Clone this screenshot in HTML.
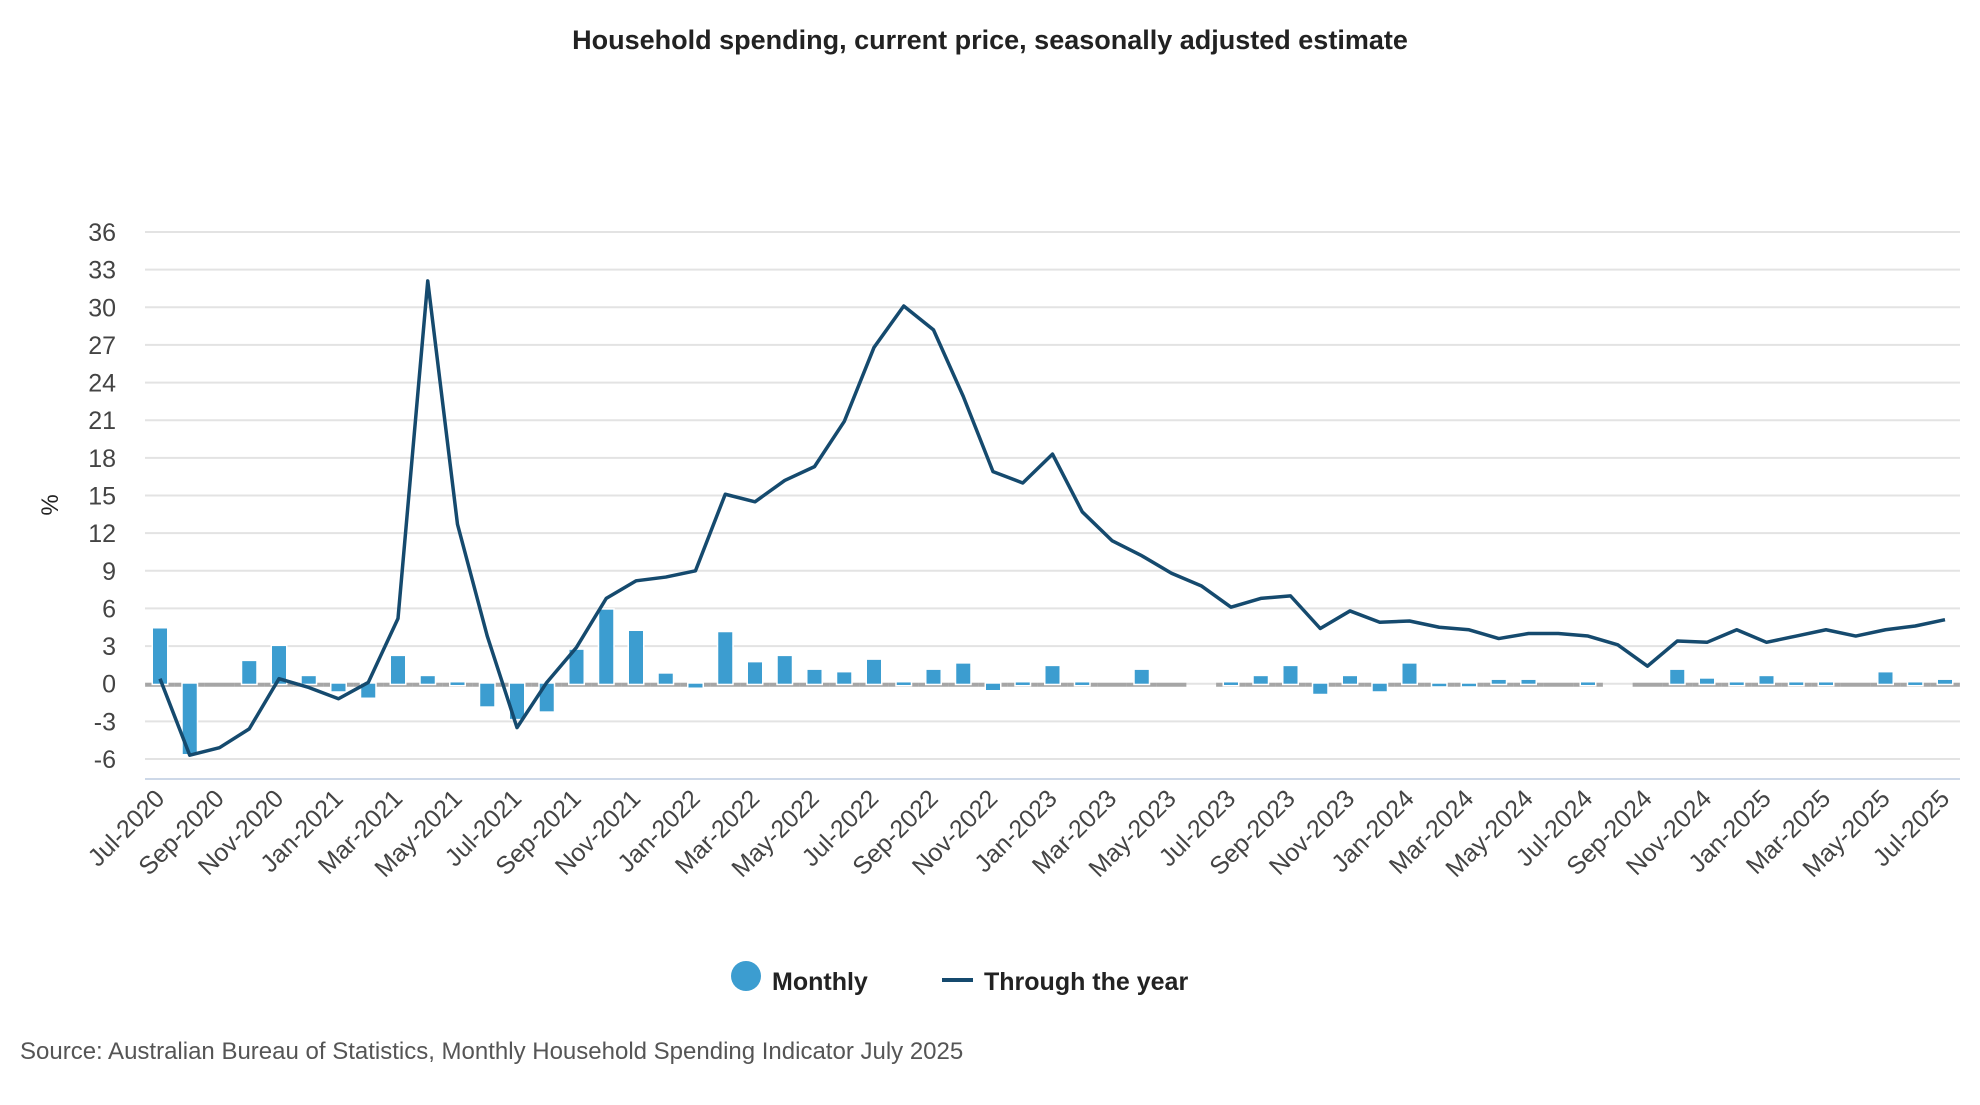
<!DOCTYPE html>
<html><head><meta charset="utf-8"><style>
body{margin:0;background:#fff;font-family:"Liberation Sans",sans-serif;}
svg text{font-family:"Liberation Sans",sans-serif;}
</style></head><body>
<svg id="chart" width="1980" height="1100" viewBox="0 0 1980 1100" xmlns="http://www.w3.org/2000/svg">
<text x="990" y="49" text-anchor="middle" font-size="27" font-weight="bold" fill="#222">Household spending, current price, seasonally adjusted estimate</text>
<g id="grid"></g><g id="bars"></g><g id="line"></g><g id="yticks"></g><g id="xticks"></g>
<text transform="translate(58,505) rotate(-90)" text-anchor="middle" font-size="24" fill="#222">%</text>
<g>
<circle cx="746" cy="976" r="15" fill="#3c9dd0"/>
<text x="772" y="990" font-size="25" font-weight="bold" fill="#222">Monthly</text>
<line x1="942" y1="980" x2="973" y2="980" stroke="#154a6e" stroke-width="4"/>
<text x="984" y="990" font-size="25" font-weight="bold" fill="#222">Through the year</text>
</g>
<text x="20" y="1059" font-size="24" fill="#555">Source: Australian Bureau of Statistics, Monthly Household Spending Indicator July 2025</text>
</svg>
<script>
const months=["Jul","Aug","Sep","Oct","Nov","Dec","Jan","Feb","Mar","Apr","May","Jun"];
const categories=[];for(let i=0;i<61;i++){categories.push(months[i%12]+"-"+(2020+Math.floor((i+6)/12)));}
const monthly=[4.4,-5.6,0,1.8,3.0,0.6,-0.6,-1.1,2.2,0.6,0.1,-1.8,-2.8,-2.2,2.7,5.9,4.2,0.8,-0.3,4.1,1.7,2.2,1.1,0.9,1.9,0.1,1.1,1.6,-0.5,0.1,1.4,0.1,0,1.1,0,null,0.1,0.6,1.4,-0.8,0.6,-0.6,1.6,-0.2,-0.2,0.3,0.3,0,0.1,null,0,1.1,0.4,0.1,0.6,0.1,0.1,0,0.9,0.1,0.3];
const throughYear=[0.4,-5.7,-5.1,-3.6,0.4,-0.3,-1.2,0.1,5.2,32.1,12.7,3.8,-3.5,0.1,2.9,6.8,8.2,8.5,9.0,15.1,14.5,16.2,17.3,20.9,26.8,30.1,28.2,22.9,16.9,16.0,18.3,13.7,11.4,10.2,8.8,7.8,6.1,6.8,7.0,4.4,5.8,4.9,5.0,4.5,4.3,3.6,4.0,4.0,3.8,3.1,1.4,3.4,3.3,4.3,3.3,3.8,4.3,3.8,4.3,4.6,5.1];
const yTicks=[-6,-3,0,3,6,9,12,15,18,21,24,27,30,33,36];
const NS="http://www.w3.org/2000/svg";
const X0=160,DX=29.75,PL=145,PR=1960;
function x(i){return X0+i*DX;}
function y(v){return 759-(v+6)*(527/42);}
function mk(t,a,p){const e=document.createElementNS(NS,t);for(const k in a)e.setAttribute(k,a[k]);p.appendChild(e);return e;}
const grid=document.getElementById('grid'),yt=document.getElementById('yticks');
yTicks.forEach(v=>{
 const l=mk('line',{x1:PL,x2:PR,y1:y(v),y2:y(v),stroke:'#e3e3e3','stroke-width':2},grid);
 
 
 const t=mk('text',{x:116,y:y(v)+9,'text-anchor':'end','font-size':25,fill:'#444'},yt);t.textContent=v;
 
 
});
const ax=mk('line',{x1:PL,x2:PR,y1:779,y2:779,stroke:'#cdd8e8','stroke-width':2},grid);


const bars=document.getElementById('bars');
monthly.forEach((v,i)=>{
 if(v===null)return;
 const z=mk('line',{x1:x(i)-DX/2,x2:x(i)+DX/2,y1:y(0)+1,y2:y(0)+1,stroke:'#a6a6a6','stroke-width':4},bars);
 
 
});
monthly.forEach((v,i)=>{
 if(v===null||v===0)return;
 const y1=Math.min(y(v),y(0)),h=Math.max(Math.abs(y(v)-y(0)),2.5);
 const r=mk('rect',{x:x(i)-7,y:y1,width:14,height:h,fill:'#3c9dd0',stroke:'#fff','stroke-width':3,'paint-order':'stroke'},bars);
 
 
});
const pl=mk('polyline',{points:throughYear.map((v,i)=>x(i)+','+y(v)).join(' '),fill:'none',stroke:'#154a6e','stroke-width':3.5,'stroke-linejoin':'round'},document.getElementById('line'));


const xt=document.getElementById('xticks');
categories.forEach((c,i)=>{
 if(i%2)return;
 const t=mk('text',{transform:'translate('+(x(i)+6)+',800) rotate(-45)','text-anchor':'end','font-size':25,fill:'#444'},xt);
 t.textContent=c;
 
 
});
</script>
</body></html>
